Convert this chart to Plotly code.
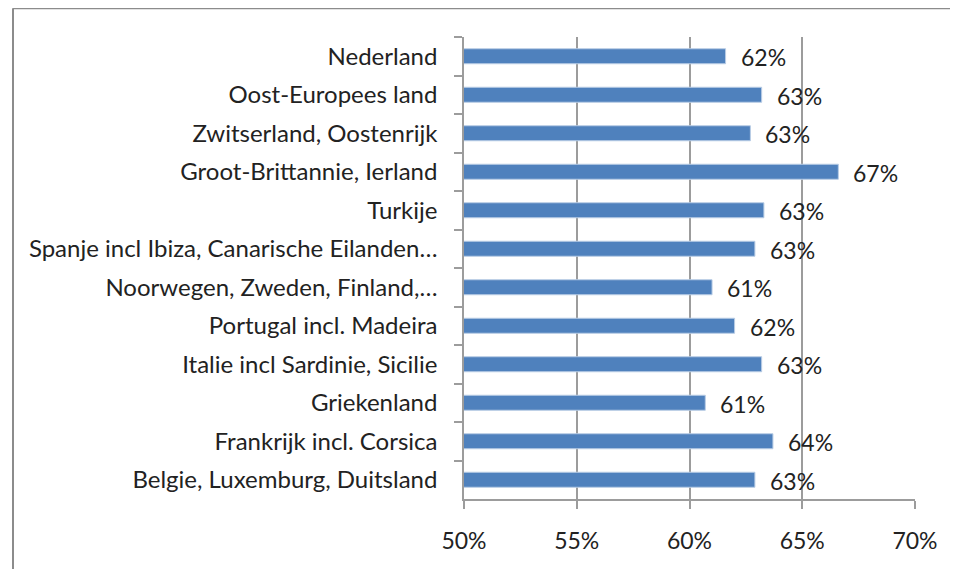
import plotly.graph_objects as go

# destinations, top to bottom as in the chart
categories = [
    "Nederland",
    "Oost-Europees land",
    "Zwitserland, Oostenrijk",
    "Groot-Brittannie, Ierland",
    "Turkije",
    "Spanje incl Ibiza, Canarische Eilanden…",
    "Noorwegen, Zweden, Finland,…",
    "Portugal incl. Madeira",
    "Italie incl Sardinie, Sicilie",
    "Griekenland",
    "Frankrijk incl. Corsica",
    "Belgie, Luxemburg, Duitsland",
]
values = [61.6, 63.2, 62.7, 66.6, 63.3, 62.9, 61.0, 62.0, 63.2, 60.7, 63.7, 62.9]
x_ticks = [50, 55, 60, 65, 70]
x_tick_labels = ["50%", "55%", "60%", "65%", "70%"]

FONT = "Lato"
GRID = "#9c9c9c"
FRAME = "#8c8c8c"

fig = go.Figure()

fig.add_trace(go.Bar(
    x=values,
    y=categories,
    orientation="h",
    marker=dict(color="#4f81bd", line=dict(color="#b9cde5", width=1)),
    hoverinfo="skip",
))

# data labels next to the bar ends
for cat, v in zip(categories, values):
    fig.add_annotation(
        x=v, y=cat, text=f"{round(v)}%", showarrow=False,
        xanchor="left", xshift=13, yshift=-1,
        font=dict(family=FONT, size=23, color="#222222"),
    )

# outer chart frame: only its top and left edges are inside the picture
fig.add_shape(type="line", xref="paper", yref="paper",
              x0=-1.0, x1=1.2, y0=1.062, y1=1.062,
              line=dict(color=FRAME, width=2))
fig.add_shape(type="line", xref="paper", yref="paper",
              x0=-1.0, x1=-1.0, y0=-0.3, y1=1.062,
              line=dict(color=FRAME, width=2))

fig.update_layout(
    width=942,
    height=561,
    margin=dict(l=456, r=33, t=29, b=70),
    paper_bgcolor="white",
    plot_bgcolor="white",
    showlegend=False,
    bargap=0.61,
    font=dict(family=FONT, size=24, color="#222222"),
    xaxis=dict(
        range=[50, 70],
        tickvals=x_ticks,
        ticktext=x_tick_labels,
        showgrid=True,
        gridcolor=GRID,
        gridwidth=1.5,
        zeroline=False,
        showline=True,
        linecolor=GRID,
        linewidth=1.5,
        ticks="outside",
        ticklen=8,
        tickcolor=GRID,
        tickwidth=1.5,
        ticklabelstandoff=13,
        tickfont=dict(size=23),
    ),
    yaxis=dict(
        type="category",
        autorange="reversed",
        showgrid=False,
        showline=True,
        linecolor=GRID,
        linewidth=1.5,
        ticks="outside",
        tickson="boundaries",
        ticklen=8,
        tickcolor=GRID,
        tickwidth=1.5,
        ticklabelstandoff=20,
    ),
)

fig.write_html("out.html")
